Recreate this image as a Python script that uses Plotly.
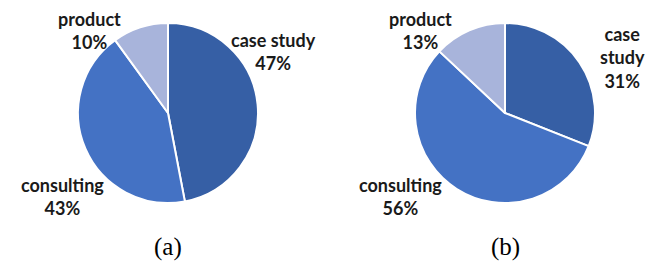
import plotly.graph_objects as go

categories = ["case study", "consulting", "product"]
values_a = [47, 43, 10]
values_b = [31, 56, 13]
label_text_a = ["case study", "consulting", "product"]
label_text_b = ["case<br>study", "consulting", "product"]
subtitles = ["(a)", "(b)"]
colors = ["#365FA5", "#4472C4", "#A8B4DB"]

# the page body has an 8px margin, so the figure is drawn offset by 8px
OFF = 8
W, H = 662 - OFF, 269 - OFF

def px_x(x):
    return (x - OFF) / W

def px_y(y):
    return 1 - (y - OFF) / H

fig = go.Figure()

pie_specs = [
    (values_a, (78, 258)),
    (values_b, (415, 595)),
]
for vals, (x0, x1) in pie_specs:
    fig.add_trace(go.Pie(
        labels=categories,
        values=vals,
        sort=False,
        direction="clockwise",
        rotation=0,
        marker=dict(colors=colors, line=dict(color="white", width=2)),
        textinfo="none",
        hoverinfo="label+percent",
        showlegend=False,
        domain=dict(x=[px_x(x0), px_x(x1)], y=[px_y(203), px_y(23)]),
    ))

label_font = dict(family="Lato", size=18, color="#1a1a1a", weight="bold")

# label centers (pixel positions of text block centers)
pos_a = [(273, 52), (62, 196), (90, 31)]
pos_b = [(622, 57), (400, 196), (420, 31)]

for texts, vals, pos in [(label_text_a, values_a, pos_a), (label_text_b, values_b, pos_b)]:
    for t, v, (x, y) in zip(texts, vals, pos):
        fig.add_annotation(
            x=px_x(x), y=px_y(y), xref="paper", yref="paper",
            text=f"{t}<br>{v}%", showarrow=False,
            font=label_font, align="center",
            xanchor="center", yanchor="middle",
        )

for s, x in zip(subtitles, [168, 505]):
    fig.add_annotation(
        x=px_x(x), y=px_y(247), xref="paper", yref="paper",
        text=s, showarrow=False,
        font=dict(family="Liberation Serif", size=25, color="#000000"),
        xanchor="center", yanchor="middle",
    )

fig.update_layout(
    width=W, height=H,
    margin=dict(l=0, r=0, t=0, b=0),
    paper_bgcolor="white",
    plot_bgcolor="white",
)

fig.write_html("out.html")
